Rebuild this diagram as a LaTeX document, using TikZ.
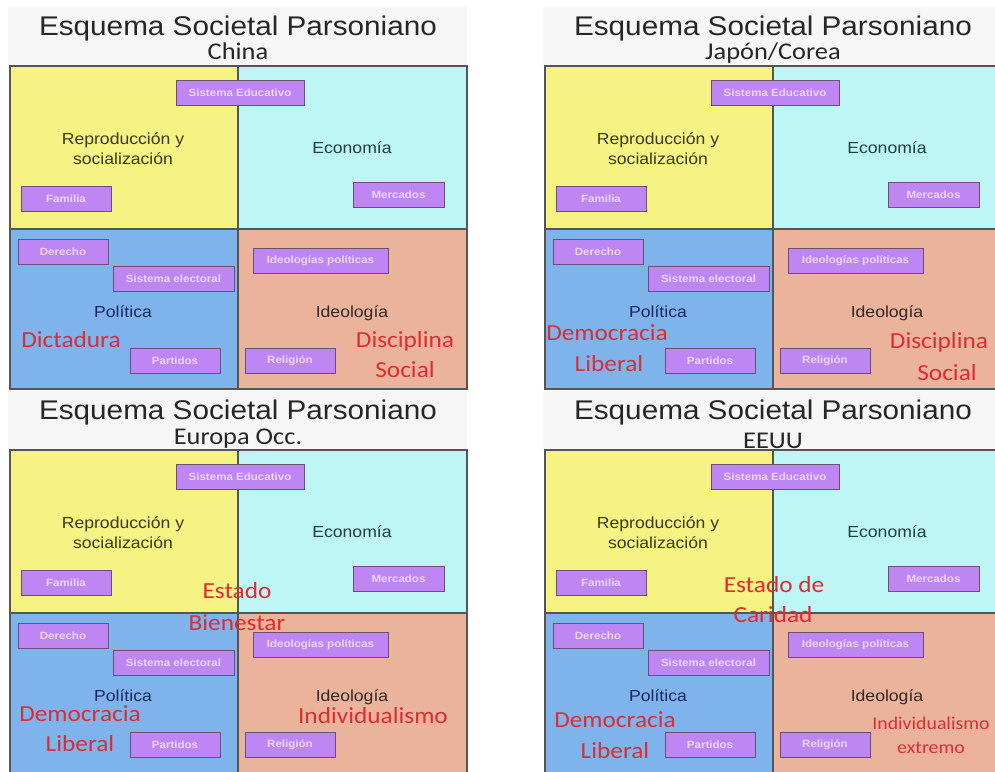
\documentclass[tikz,border=0pt]{standalone}
\usepackage{fontspec}
\setmainfont{Liberation Sans}[FakeStretch=1.1]
\newfontfamily\calibfont{Carlito}[FakeStretch=1.1]
\definecolor{fondo}{RGB}{246,246,246}
\definecolor{amarillo}{RGB}{246,242,131}
\definecolor{celeste}{RGB}{190,245,245}
\definecolor{azul}{RGB}{126,179,236}
\definecolor{salmon}{RGB}{236,179,156}
\definecolor{morado}{RGB}{190,134,242}
\definecolor{moradoborde}{RGB}{105,80,120}
\definecolor{cajatexto}{RGB}{236,214,250}
\definecolor{borde}{RGB}{85,85,85}
\definecolor{rojo}{RGB}{220,45,50}
\tikzset{
  caja/.style={draw=moradoborde, fill=morado, line width=1pt, minimum height=25pt, inner sep=0pt,
    text=cajatexto, font=\fontsize{10.5}{12}\selectfont\bfseries},
  etiqueta/.style={font=\fontsize{16}{20}\selectfont, align=center},
  rojotxt/.style={anchor=base, text=rojo, font=\calibfont\fontsize{23}{26}\selectfont},
}
\begin{document}
\begin{tikzpicture}[x=1pt,y=-1pt]
  \clip (0,0) rectangle (995,771);
  \fill[white] (0,0) rectangle (995,771);
  % los cuatro esquemas
  \foreach \dx/\dy/\sy/\pais/\k in {0/0/59/China/ch, 535/0/59/{Japón/Corea}/jp, 0/384/60/{Europa Occ.}/eu, 535/384/64/EEUU/us} {
    \begin{scope}[shift={(\dx,\dy)}]
      \fill[fondo] (8,7) rectangle (467,66);
      \fill[amarillo] (10,66) rectangle (238,229);
      \fill[celeste] (238,66) rectangle (467,229);
      \fill[azul] (10,229) rectangle (238,389);
      \fill[salmon] (238,229) rectangle (467,389);
      \draw[borde, line width=1.2pt] (10,66) rectangle (467,389);
      \draw[borde, line width=1.2pt] (238,66) -- (238,389);
      \draw[borde, line width=1.2pt] (10,229) -- (467,229);
      \node[anchor=base, font=\fontsize{27}{30}\selectfont, text=black!85] (tit-\k) at (238,35) {Esquema Societal Parsoniano};
      \node[anchor=base, font=\calibfont\fontsize{24}{26}\selectfont, text=black!85] (sub-\k) at (238,\sy) {\pais};
      \node[caja, minimum width=128pt] (edu-\k) at (240,92.5) {Sistema Educativo};
      \node[caja, minimum width=90pt] (fam-\k) at (66,199) {Familia};
      \node[caja, minimum width=91pt] (mer-\k) at (398.5,194.5) {Mercados};
      \node[caja, minimum width=90pt] (der-\k) at (63,252) {Derecho};
      \node[caja, minimum width=121pt] (ele-\k) at (173.5,279) {Sistema electoral};
      \node[caja, minimum width=90pt] (par-\k) at (175,360.5) {Partidos};
      \node[caja, minimum width=135pt] (ide-\k) at (320.5,260.5) {Ideologías políticas};
      \node[caja, minimum width=90pt] (rel-\k) at (290,360.5) {Religión};
      \node[etiqueta, text={rgb,255:red,60;green,60;blue,30}] (rep-\k) at (123,149) {Reproducción y\\socialización};
      \node[etiqueta, anchor=base, text={rgb,255:red,30;green,65;blue,65}] (eco-\k) at (352,153) {Economía};
      \node[etiqueta, anchor=base, text={rgb,255:red,25;green,40;blue,90}] (pol-\k) at (123,317) {Política};
      \node[etiqueta, anchor=base, text={rgb,255:red,55;green,40;blue,35}] (ideo-\k) at (352,317) {Ideología};
    \end{scope}
  }
  % China
  \node[rojotxt] (dic-ch) at (71,347) {Dictadura};
  \node[rojotxt] (dis-ch) at (405,347) {Disciplina};
  \node[rojotxt] (soc-ch) at (405,377) {Social};
  % Japon / Corea
  \node[rojotxt] (dem-jp) at (607,340) {Democracia};
  \node[rojotxt] (lib-jp) at (609,371) {Liberal};
  \node[rojotxt] (dis-jp) at (939,348) {Disciplina};
  \node[rojotxt] (soc-jp) at (947,380) {Social};
  % Europa
  \node[rojotxt] (est-eu) at (237,598) {Estado};
  \node[rojotxt] (bie-eu) at (237,630) {Bienestar};
  \node[rojotxt] (dem-eu) at (80,721) {Democracia};
  \node[rojotxt] (lib-eu) at (80,751) {Liberal};
  \node[rojotxt] (ind-eu) at (373,723) {Individualismo};
  % EEUU
  \node[rojotxt] (est-us) at (774,592) {Estado de};
  \node[rojotxt] (car-us) at (773,622) {Caridad};
  \node[rojotxt] (dem-us) at (615,727) {Democracia};
  \node[rojotxt] (lib-us) at (615,758) {Liberal};
  \node[rojotxt, font=\calibfont\fontsize{18}{20}\selectfont] (ind-us) at (931,729) {Individualismo};
  \node[rojotxt, font=\calibfont\fontsize{18}{20}\selectfont] (ext-us) at (931,753) {extremo};
\end{tikzpicture}
\end{document}
